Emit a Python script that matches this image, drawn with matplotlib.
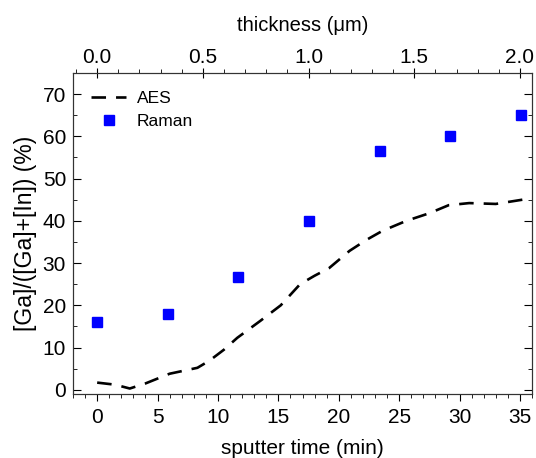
import numpy as np
import matplotlib
matplotlib.use('Agg')
import matplotlib.pyplot as plt
from matplotlib.ticker import MultipleLocator, FormatStrFormatter

plt.rcParams['font.family'] = ['Liberation Sans', 'DejaVu Sans']

# AES depth profile (dashed)
aes_time = [0, 1.5, 2.7, 4, 6, 8.3, 9.3, 10.5, 11.6, 13.5, 15.2, 16.8, 18, 19.2, 20.9,
            22.3, 23.6, 25.6, 27.5, 29.1, 30.8, 33, 35.2]
aes_ga = [1.7, 1.2, 0.3, 1.5, 3.8, 5.2, 6.9, 9.5, 12.3, 16.3, 20, 25, 27, 28.8, 32.9,
          35.5, 37.6, 40, 41.8, 43.7, 44.2, 44, 45]

# Raman points
raman_time = [0, 5.9, 11.7, 17.5, 23.4, 29.2, 35.1]
raman_ga = [16, 18, 26.8, 40, 56.6, 60, 65]

# thickness (um) per minute of sputtering
um_per_min = 2.0 / 35.0

fig = plt.figure(figsize=(5.36, 4.58), dpi=100)
ax = fig.add_axes([73/536, 64/458, 459/536, 321/458])

ax.plot(aes_time, aes_ga, color='black', lw=1.9, ls=(0, (5.5, 3.8)), label='AES')
ax.plot(raman_time, raman_ga, ls='none', marker='s', ms=7.5, color='#0000ff',
        label='Raman')

ax.set_xlim(-2, 36)
ax.set_ylim(-1, 75)
ax.xaxis.set_major_locator(MultipleLocator(5))
ax.xaxis.set_minor_locator(MultipleLocator(1))
ax.yaxis.set_major_locator(MultipleLocator(10))
ax.yaxis.set_minor_locator(MultipleLocator(5))
ax.tick_params(axis='x', which='both', direction='out', labelsize=15, pad=5)
ax.tick_params(axis='x', which='major', length=5)
ax.tick_params(axis='x', which='minor', length=3)
ax.tick_params(axis='y', which='both', direction='in', right=True, labelsize=15, pad=5)
ax.tick_params(axis='y', which='major', length=6)
ax.tick_params(axis='y', which='minor', length=3)
ax.set_xlabel('sputter time (min)', fontsize=15, labelpad=9)
ax.set_ylabel('[Ga]/([Ga]+[In]) (%)', fontsize=16.5, labelpad=4)

# top axis: thickness
top = ax.twiny()
top.set_xlim(-2 * um_per_min, 36 * um_per_min)
top.xaxis.set_major_locator(MultipleLocator(0.5))
top.xaxis.set_minor_locator(MultipleLocator(0.1))
top.xaxis.set_major_formatter(FormatStrFormatter('%.1f'))
top.tick_params(which='major', direction='inout', length=7, labelsize=15, pad=1)
top.tick_params(which='minor', direction='out', length=3)
top.set_xlabel('thickness (\u03bcm)', fontsize=14.5, labelpad=12)

for a in (ax, top):
    for s in a.spines.values():
        s.set_color('#333333')

ax.legend(loc='upper left', bbox_to_anchor=(0.025, 0.965), frameon=False,
          fontsize=12.5, handlelength=2.0, borderaxespad=0, labelspacing=0.45,
          handletextpad=0.6)

fig.savefig('out.png', dpi=100)
